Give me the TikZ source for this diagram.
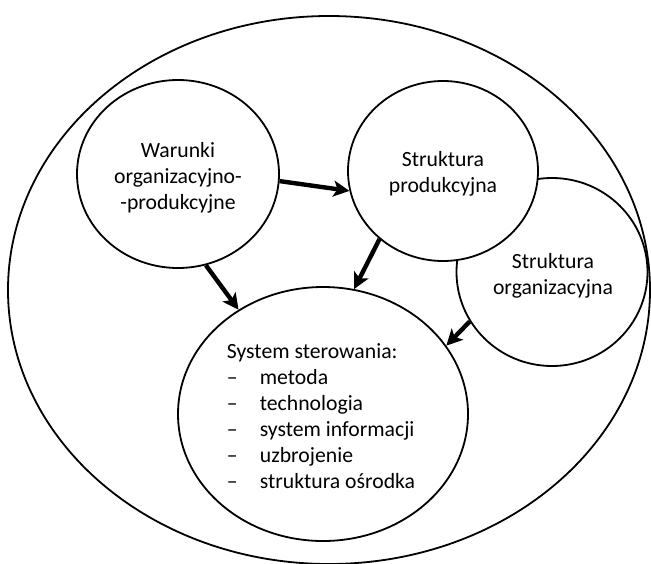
\documentclass[tikz,border=0pt]{standalone}
\usepackage{fontspec}
\setmainfont{Carlito}
\usetikzlibrary{shapes.geometric,arrows.meta}
\newcommand{\itemdash}{\makebox[33pt][l]{\textendash}}
\begin{document}
\begin{tikzpicture}[x=1pt,y=-1pt,
  blob/.style={ellipse,draw,line width=1.8pt,inner sep=0pt},
  caption/.style={align=center,inner sep=0pt,font=\fontsize{21.7}{26}\selectfont},
  flow/.style={line width=4.4pt,-{Stealth[length=16pt,width=16pt,inset=4pt]}}]
\useasboundingbox (0,0) rectangle (651,563);
% circles; the production structure hides part of the organisational one
\node[blob,minimum width=191pt,minimum height=188pt] (org) at (552,272) {};
\node[blob,fill=white,minimum width=190pt,minimum height=180pt] (prod) at (443,171) {};
\node[blob,minimum width=202pt,minimum height=188pt] (war) at (178,174) {};
\node[blob,minimum width=290pt,minimum height=254pt] (sys) at (323,414) {};
% enclosing environment
\node[blob,minimum width=642pt,minimum height=548pt] (env) at (329,290) {};
% captions
\node[caption] (warText) at (178,178) {Warunki\\organizacyjno-\\-produkcyjne};
\node[caption] (prodText) at (443,174) {Struktura\\produkcyjna};
\node[caption] (orgText) at (553,276) {Struktura\\organizacyjna};
\node[caption,align=left] (sysText) at (321,416)
  {System sterowania:\\
   \itemdash metoda\\
   \itemdash technologia\\
   \itemdash system informacji\\
   \itemdash uzbrojenie\\
   \itemdash struktura ośrodka};
% influences
\draw[flow] (war.-4) -- (prod.192);
\draw[flow] (war.-73) -- (sys.129);
\draw[flow] (prod.227) -- (sys.76);
\draw[flow] (org.211) -- (sys.29);
\end{tikzpicture}
\end{document}
